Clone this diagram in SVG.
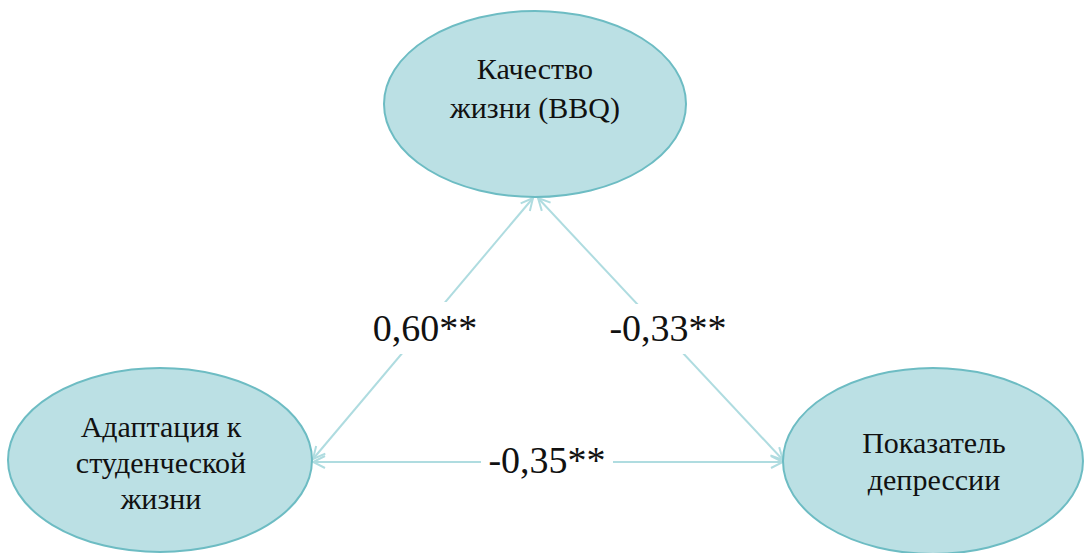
<svg xmlns="http://www.w3.org/2000/svg" width="1085" height="553" viewBox="0 0 1085 553">
<style>
.node ellipse{fill:#bbe0e4;stroke:#6dbcc3;stroke-width:2}
.node text{font-family:'Liberation Serif','Times New Roman',serif;font-size:30px;fill:#111;text-anchor:middle}
.edge{stroke:#afdce0;stroke-width:2;fill:none}
.lbl{font-family:'Liberation Serif','Times New Roman',serif;font-size:38px;fill:#111;text-anchor:middle}
</style>
<defs>
<marker id="ah" viewBox="0 0 14 14" refX="13" refY="7" markerWidth="14" markerHeight="14" markerUnits="userSpaceOnUse" orient="auto-start-reverse">
<path d="M1,1 L13,7 L1,13" fill="none" stroke="#afdce0" stroke-width="2"/>
</marker>
</defs>
<rect width="1085" height="553" fill="#fff"/>
<g id="connectors">
<line class="edge" x1="533" y1="198" x2="313" y2="459" marker-start="url(#ah)" marker-end="url(#ah)"/>
<line class="edge" x1="538" y1="198" x2="783" y2="460" marker-start="url(#ah)" marker-end="url(#ah)"/>
<line class="edge" x1="313" y1="462" x2="783" y2="462" marker-start="url(#ah)" marker-end="url(#ah)"/>
<rect x="370" y="302" width="110" height="52" fill="#fff"/>
<rect x="606" y="304" width="126" height="50" fill="#fff"/>
<rect x="481" y="440" width="132" height="44" fill="#fff"/>
<text class="lbl" x="425" y="341">0,60**</text>
<text class="lbl" x="668" y="341">-0,33**</text>
<text class="lbl" x="547" y="473">-0,35**</text>
</g>
<g id="node-quality" class="node">
<ellipse cx="535" cy="104" rx="151" ry="93"/>
<text x="535" y="79">Качество</text>
<text x="535" y="118">жизни (BBQ)</text>
</g>
<g id="node-adaptation" class="node">
<ellipse cx="160" cy="460" rx="152" ry="92"/>
<text x="161" y="437">Адаптация к</text>
<text x="161" y="473">студенческой</text>
<text x="161" y="509">жизни</text>
</g>
<g id="node-depression" class="node">
<ellipse cx="933" cy="461" rx="150" ry="93"/>
<text x="934" y="453">Показатель</text>
<text x="934" y="490">депрессии</text>
</g>
</svg>
